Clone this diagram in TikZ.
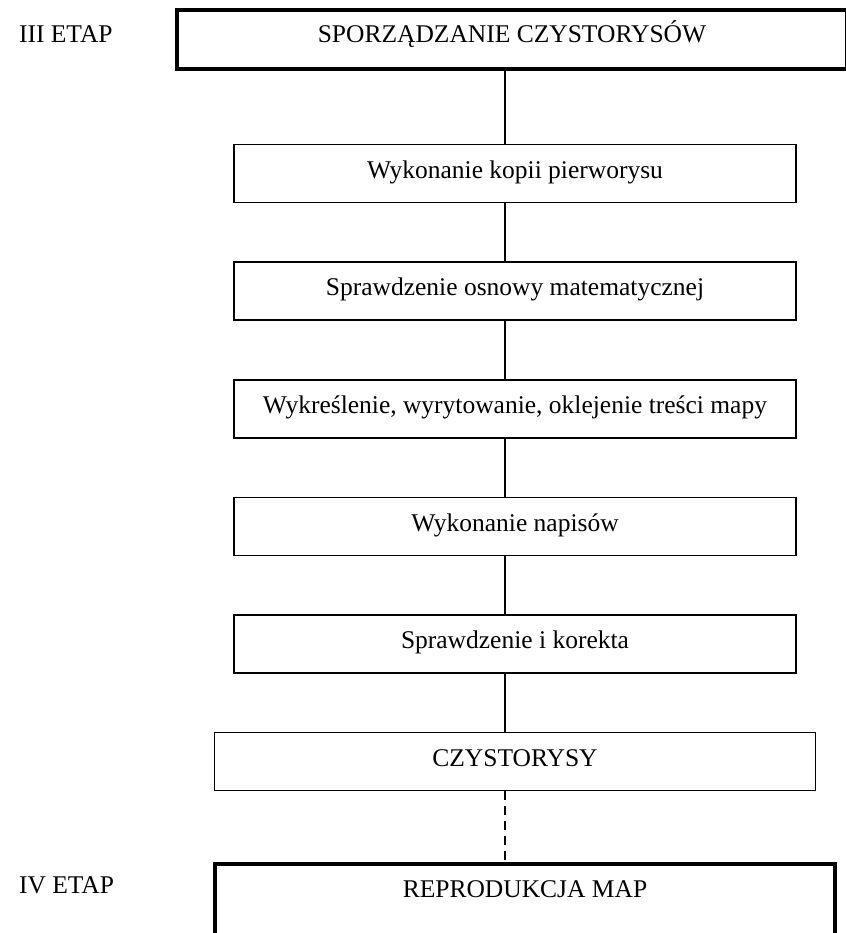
\documentclass[tikz,border=0pt]{standalone}
\usepackage{fontspec}
\setmainfont{Liberation Serif}
\usetikzlibrary{positioning}
\begin{document}
\begin{tikzpicture}[x=0.5pt, y=-0.5pt, node distance=29pt,
    every node/.style={font=\fontsize{12.75}{15}\selectfont},
    task/.style={draw, line width=0.8pt, minimum width=281pt, minimum height=29pt, inner sep=0pt, text height=0.7em, text depth=0.22em},
    stage/.style={draw, line width=2pt, inner xsep=0pt, inner ysep=7.5pt, text height=9pt},
    link/.style={line width=0.6pt}]
        \useasboundingbox (0,0) rectangle (846,933);
        \coordinate (spine) at (505,0);

        \node[anchor=base west] (etap3) at (12,42)  {III ETAP};
        \node[anchor=base west] (etap4) at (12,893) {IV ETAP};

        \node[stage, minimum width=335pt, text depth=5.5pt] (clean) at (512,39) {SPORZĄDZANIE CZYSTORYSÓW};
        \node[task] (copy) at (515,173.5)           {Wykonanie kopii pierworysu};
        \node[task] (grid) [below=of copy]          {Sprawdzenie osnowy matematycznej};
        \node[task] (draft) [below=of grid]         {Wykreślenie, wyrytowanie, oklejenie treści mapy};
        \node[task] (names) [below=of draft]        {Wykonanie napisów};
        \node[task] (check) [below=of names]        {Sprawdzenie i korekta};
        \node[task, minimum width=300.5pt] (fair) [below=of check] {CZYSTORYSY};
        \node[stage, minimum width=310pt, text depth=25pt, anchor=north] (repro) at (525,862) {REPRODUKCJA MAP};

        % \pause

        \draw[link] (clean.south -| spine) -- (copy.north -| spine);
        \draw[link] (copy.south -| spine) -- (grid.north -| spine);
        \draw[link] (grid.south -| spine) -- (draft.north -| spine);
        \draw[link] (draft.south -| spine) -- (names.north -| spine);
        \draw[link] (names.south -| spine) -- (check.north -| spine);
        \draw[link] (check.south -| spine) -- (fair.north -| spine);
        \draw[link, dash pattern=on 4.5pt off 3pt] (fair.south -| spine) -- (repro.north -| spine);

    \end{tikzpicture}
\end{document}
